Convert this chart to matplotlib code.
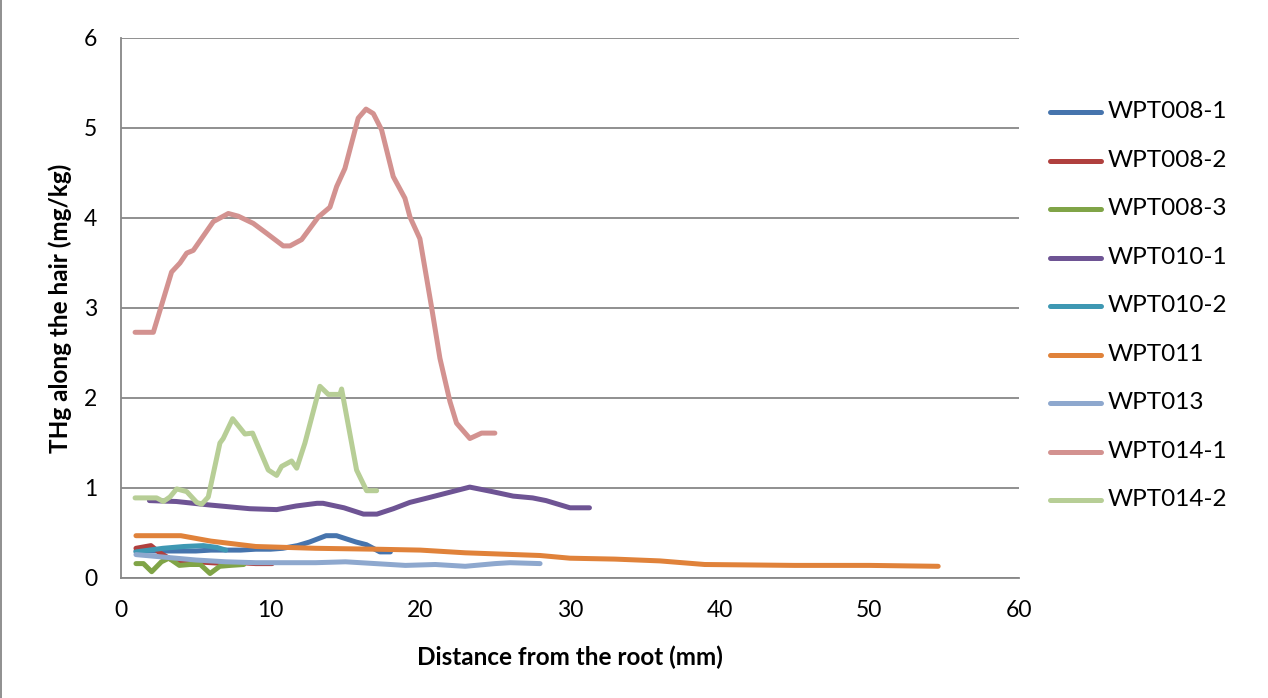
import matplotlib
matplotlib.use("Agg")
import matplotlib.pyplot as plt
from matplotlib.lines import Line2D

plt.rcParams['font.family'] = ['Lato', 'DejaVu Sans']

# THg profiles along the hair: (distance mm, THg mg/kg)
wpt008_1_x = [1, 2, 3, 4, 5, 6, 7, 8, 9, 10, 10.8, 11.8, 12.6, 13.7, 14.4, 15.7, 16.4, 17.3, 18.0]
wpt008_1_y = [0.30, 0.30, 0.30, 0.30, 0.30, 0.31, 0.31, 0.31, 0.32, 0.32, 0.33, 0.36, 0.40, 0.47, 0.47, 0.40, 0.37, 0.29, 0.29]

wpt008_2_x = [1, 2, 2.6, 3.3, 4, 5, 6, 7, 8, 9, 10.1]
wpt008_2_y = [0.33, 0.36, 0.28, 0.21, 0.19, 0.18, 0.17, 0.16, 0.17, 0.16, 0.16]

wpt008_3_x = [1, 1.5, 2.05, 2.7, 3.2, 3.9, 4.6, 5.3, 5.95, 6.6, 7.3, 8.2]
wpt008_3_y = [0.16, 0.16, 0.07, 0.18, 0.22, 0.14, 0.15, 0.15, 0.05, 0.13, 0.14, 0.15]

wpt010_1_x = [1.9, 3.7, 6.0, 8.6, 10.4, 11.7, 13.1, 13.5, 14.9, 16.2, 17.1, 18.2, 19.3, 20.5, 23.3, 24.8, 26.2, 27.5, 28.4, 30.0, 31.3]
wpt010_1_y = [0.86, 0.85, 0.81, 0.77, 0.76, 0.80, 0.83, 0.83, 0.78, 0.71, 0.71, 0.77, 0.84, 0.89, 1.01, 0.96, 0.91, 0.89, 0.86, 0.78, 0.78]

wpt010_2_x = [1, 2.8, 4.2, 5.5, 6.4, 7.0]
wpt010_2_y = [0.29, 0.33, 0.35, 0.36, 0.34, 0.31]

wpt011_x = [1, 4, 6, 9, 13, 17, 20, 23, 28, 30, 33, 36, 39, 45, 50, 54.6]
wpt011_y = [0.47, 0.47, 0.41, 0.35, 0.33, 0.32, 0.31, 0.28, 0.25, 0.22, 0.21, 0.19, 0.15, 0.14, 0.14, 0.13]

wpt013_x = [1, 3, 5, 7, 9, 11, 13, 15, 17, 19, 21, 23, 25, 26, 28]
wpt013_y = [0.26, 0.23, 0.20, 0.18, 0.17, 0.17, 0.17, 0.18, 0.16, 0.14, 0.15, 0.13, 0.16, 0.17, 0.16]

wpt014_1_x = [0.94, 2.16, 3.38, 3.94, 4.39, 4.83, 6.17, 7.17, 7.84, 8.84, 9.73, 10.84, 11.29, 12.07, 13.18,
              13.96, 14.41, 14.96, 15.85, 16.37, 16.86, 17.41, 18.19, 18.97, 19.31, 19.97, 20.75, 21.31,
              21.98, 22.42, 23.31, 24.09, 24.98]
wpt014_1_y = [2.73, 2.73, 3.40, 3.50, 3.61, 3.64, 3.96, 4.05, 4.02, 3.94, 3.83, 3.69, 3.69, 3.76, 4.01,
              4.12, 4.35, 4.55, 5.11, 5.21, 5.16, 4.98, 4.46, 4.22, 4.01, 3.77, 3.01, 2.44,
              1.96, 1.72, 1.55, 1.61, 1.61]

wpt014_2_x = [0.94, 2.38, 2.83, 3.27, 3.72, 4.39, 5.06, 5.39, 5.83, 6.61, 6.83, 7.46, 8.28, 8.79, 9.84,
              10.40, 10.73, 11.40, 11.74, 12.29, 13.29, 13.85, 14.63, 14.74, 15.74, 16.41, 17.08]
wpt014_2_y = [0.89, 0.89, 0.85, 0.90, 0.99, 0.96, 0.84, 0.82, 0.90, 1.50, 1.55, 1.77, 1.60, 1.61, 1.20,
              1.14, 1.24, 1.30, 1.22, 1.50, 2.13, 2.04, 2.04, 2.10, 1.20, 0.97, 0.97]

labels = ['WPT008-1', 'WPT008-2', 'WPT008-3', 'WPT010-1', 'WPT010-2',
          'WPT011', 'WPT013', 'WPT014-1', 'WPT014-2']
xs = [wpt008_1_x, wpt008_2_x, wpt008_3_x, wpt010_1_x, wpt010_2_x,
      wpt011_x, wpt013_x, wpt014_1_x, wpt014_2_x]
ys = [wpt008_1_y, wpt008_2_y, wpt008_3_y, wpt010_1_y, wpt010_2_y,
      wpt011_y, wpt013_y, wpt014_1_y, wpt014_2_y]
colors = ['#4674AD', '#B0403E', '#80A447', '#6E5494', '#3E98B3',
          '#E0823A', '#8EA8CE', '#D39290', '#B7CE96']

W, H = 1268, 698
fig = plt.figure(figsize=(W / 100, H / 100), dpi=100)
ax = fig.add_axes([121 / W, 1 - 578 / H, (1019 - 121) / W, (578 - 38) / H])

lw = 3.6
# later series are drawn on top
for x, y, c, lab in zip(xs, ys, colors, labels):
    ax.plot(x, y, color=c, lw=lw, solid_capstyle='round', solid_joinstyle='round', label=lab)

ax.set_xlim(0, 60)
ax.set_ylim(0, 6)
ax.set_xticks(range(0, 61, 10))
ax.set_yticks(range(0, 7))
ax.grid(axis='y', color='#878787', lw=1.3)
ax.set_axisbelow(True)
for side in ['top', 'right']:
    ax.spines[side].set_visible(False)
for side in ['left', 'bottom']:
    ax.spines[side].set_color('#878787')
    ax.spines[side].set_linewidth(1.3)
ax.tick_params(axis='both', length=0, labelsize=16.5, labelcolor='black')
ax.tick_params(axis='y', pad=17)
ax.tick_params(axis='x', pad=16)

ax.set_xlabel('Distance from the root (mm)', fontsize=17.5, fontweight='bold')
ax.set_ylabel('THg along the hair (mg/kg)', fontsize=17.5, fontweight='bold')
ax.xaxis.set_label_coords(0.5, -(657 - 578) / 540)
ax.xaxis.label.set_va('center')
ax.yaxis.set_label_coords((60 - 121) / 898, 0.5)
ax.yaxis.label.set_va('center')

# legend on the right, one row per sample
row_y = [112 + i * 48.5 for i in range(len(labels))]
for yy, c, lab in zip(row_y, colors, labels):
    fig.add_artist(Line2D([1050 / W, 1101 / W], [1 - yy / H, 1 - yy / H], color=c, lw=lw,
                          solid_capstyle='round'))
    fig.text(1108 / W, 1 - yy / H, lab, fontsize=17.5, va='center', ha='left')

# left edge of the chart frame
fig.add_artist(Line2D([1 / W, 1 / W], [0, 1], color='#878787', lw=1.3))

fig.savefig('out.png', dpi=100)
